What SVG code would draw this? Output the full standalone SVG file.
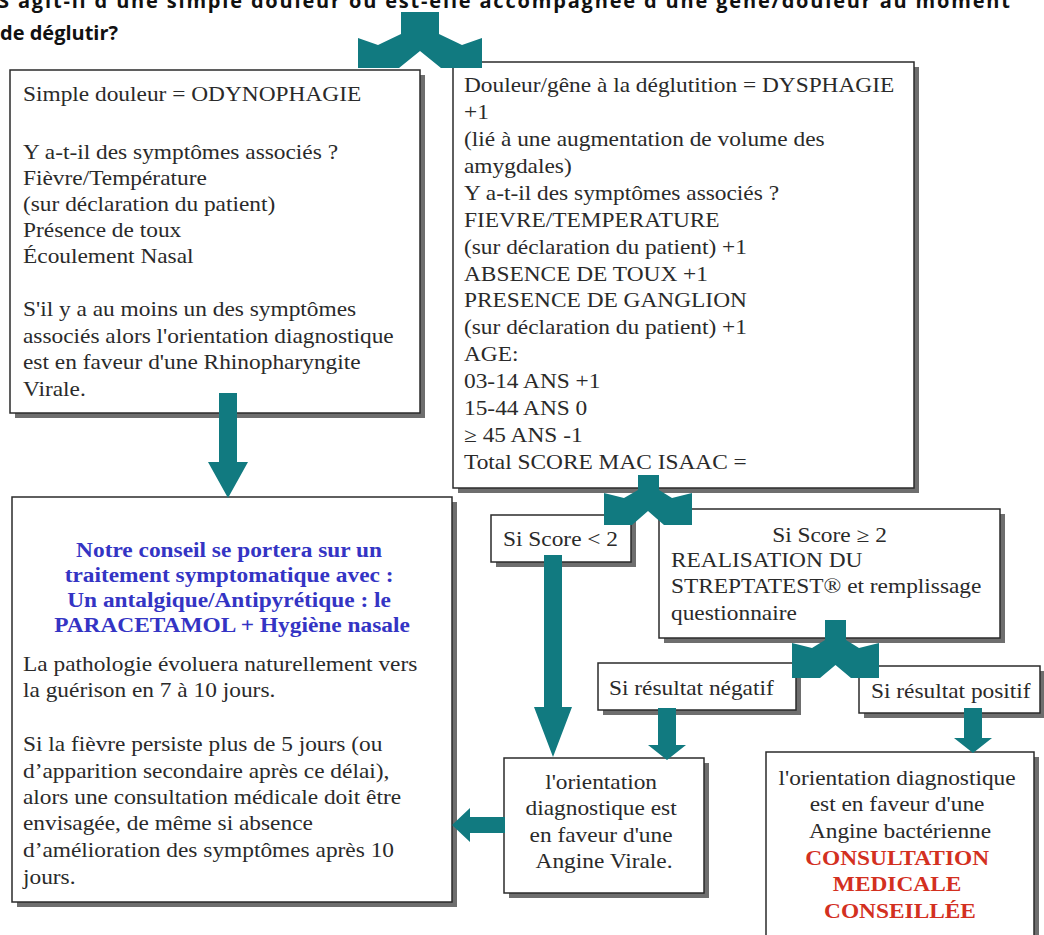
<svg xmlns="http://www.w3.org/2000/svg" width="1044" height="935" viewBox="0 0 1044 935">
<style>
.sh{fill:#6e6e6e}
.bx{fill:#fff;stroke:#2b2b2b;stroke-width:1.5}
.t{font-family:"Liberation Serif","Times New Roman",serif;font-size:20.5px;fill:#2a2a2a}
.c{text-anchor:middle}
.blue{fill:#3434c4;font-weight:bold}
.red{fill:#d3301f;font-weight:bold}
.ttl{font-family:"Open Sans","Liberation Sans",sans-serif;font-weight:700;font-size:20px;fill:#111}
.ar{fill:#117a80}
</style>
<rect width="1044" height="935" fill="#fff"/>
<g id="title">
<text class="ttl" x="-2" y="8" textLength="1012" lengthAdjust="spacing">S'agit-il d'une simple douleur ou est-elle accompagnée d'une gêne/douleur au moment</text>
<text class="ttl" x="0" y="40">de déglutir?</text>
</g>
<g id="n-odynophagie">
<rect class="sh" x="15" y="75" width="410" height="343"/>
<rect class="bx" x="10" y="70" width="410" height="343"/>
<text class="t" transform="matrix(1.14 0 0 1 23 0)">
<tspan x="0" y="101">Simple douleur = ODYNOPHAGIE</tspan>
<tspan x="0" y="159">Y a-t-il des symptômes associés ?</tspan>
<tspan x="0" y="185">Fièvre/Température</tspan>
<tspan x="0" y="211">(sur déclaration du patient)</tspan>
<tspan x="0" y="237">Présence de toux</tspan>
<tspan x="0" y="263">Écoulement Nasal</tspan>
<tspan x="0" y="316">S'il y a au moins un des symptômes</tspan>
<tspan x="0" y="343">associés alors l'orientation diagnostique</tspan>
<tspan x="0" y="369">est en faveur d'une Rhinopharyngite</tspan>
<tspan x="0" y="396">Virale.</tspan>
</text>
</g>
<g id="n-dysphagie">
<rect class="sh" x="458" y="67" width="461" height="426"/>
<rect class="bx" x="453" y="62" width="461" height="426"/>
<text class="t" transform="matrix(1.14 0 0 1 464 0)">
<tspan x="0" y="92">Douleur/gêne à la déglutition = DYSPHAGIE</tspan>
<tspan x="0" y="119">+1</tspan>
<tspan x="0" y="146">(lié à une augmentation de volume des</tspan>
<tspan x="0" y="173">amygdales)</tspan>
<tspan x="0" y="200">Y a-t-il des symptômes associés ?</tspan>
<tspan x="0" y="227">FIEVRE/TEMPERATURE</tspan>
<tspan x="0" y="254">(sur déclaration du patient) +1</tspan>
<tspan x="0" y="281">ABSENCE DE TOUX +1</tspan>
<tspan x="0" y="307">PRESENCE DE GANGLION</tspan>
<tspan x="0" y="334">(sur déclaration du patient) +1</tspan>
<tspan x="0" y="361">AGE:</tspan>
<tspan x="0" y="388">03-14 ANS +1</tspan>
<tspan x="0" y="415">15-44 ANS 0</tspan>
<tspan x="0" y="442">≥ 45 ANS -1</tspan>
<tspan x="0" y="469">Total SCORE MAC ISAAC =</tspan>
</text>
</g>
<g id="n-conseil">
<rect class="sh" x="17" y="502" width="440" height="405"/>
<rect class="bx" x="12" y="497" width="440" height="405"/>
<text class="t blue c" transform="matrix(1.14 0 0 1 232 0)">
<tspan x="0" y="557">Notre conseil se portera sur un</tspan>
<tspan x="0" y="582">traitement symptomatique avec :</tspan>
<tspan x="0" y="607">Un antalgique/Antipyrétique : le</tspan>
<tspan x="0" y="632">PARACETAMOL + Hygiène nasale</tspan>
</text>
<text class="t" transform="matrix(1.14 0 0 1 23 0)">
<tspan x="0" y="671">La pathologie évoluera naturellement vers</tspan>
<tspan x="0" y="697">la guérison en 7 à 10 jours.</tspan>
<tspan x="0" y="751">Si la fièvre persiste plus de 5 jours (ou</tspan>
<tspan x="0" y="778">d’apparition secondaire après ce délai),</tspan>
<tspan x="0" y="804">alors une consultation médicale doit être</tspan>
<tspan x="0" y="830">envisagée, de même si absence</tspan>
<tspan x="0" y="857">d’amélioration des symptômes après 10</tspan>
<tspan x="0" y="884">jours.</tspan>
</text>
</g>
<g id="n-score-inf">
<rect class="sh" x="496" y="520" width="140" height="47"/>
<rect class="bx" x="491" y="515" width="140" height="47"/>
<text class="t" transform="matrix(1.14 0 0 1 503 0)"><tspan x="0" y="546">Si Score &lt; 2</tspan></text>
</g>
<g id="n-score-sup">
<rect class="sh" x="664" y="514" width="341" height="129"/>
<rect class="bx" x="659" y="509" width="341" height="129"/>
<text class="t c" transform="matrix(1.14 0 0 1 829.5 0)"><tspan x="0" y="542">Si Score ≥ 2</tspan></text>
<text class="t" transform="matrix(1.14 0 0 1 671 0)">
<tspan x="0" y="567">REALISATION DU</tspan>
<tspan x="0" y="593">STREPTATEST® et remplissage</tspan>
<tspan x="0" y="620">questionnaire</tspan>
</text>
</g>
<g id="n-negatif">
<rect class="sh" x="603" y="668" width="198" height="47"/>
<rect class="bx" x="598" y="663" width="198" height="47"/>
<text class="t" transform="matrix(1.14 0 0 1 609 0)"><tspan x="0" y="695">Si résultat négatif</tspan></text>
</g>
<g id="n-positif">
<rect class="sh" x="864" y="671" width="181" height="47"/>
<rect class="bx" x="859" y="666" width="181" height="47"/>
<text class="t" transform="matrix(1.14 0 0 1 871 0)"><tspan x="0" y="698">Si résultat positif</tspan></text>
</g>
<g id="n-angine-virale">
<rect class="sh" x="509" y="763" width="200" height="135"/>
<rect class="bx" x="504" y="758" width="200" height="135"/>
<text class="t c" transform="matrix(1.14 0 0 1 604 0)">
<tspan x="0" y="789">l'orientation</tspan>
<tspan x="0" y="815">diagnostique est</tspan>
<tspan x="0" y="842">en faveur d'une</tspan>
<tspan x="0" y="868">Angine Virale.</tspan>
</text>
</g>
<g id="n-angine-bacterienne">
<rect class="sh" x="771" y="757" width="268" height="200"/>
<rect class="bx" x="766" y="752" width="268" height="200"/>
<text class="t c" transform="matrix(1.14 0 0 1 900 0)">
<tspan x="0" y="785">l'orientation diagnostique</tspan>
<tspan x="0" y="811">est en faveur d'une</tspan>
<tspan x="0" y="838">Angine bactérienne</tspan>
</text>
<text class="t c red" transform="matrix(1.14 0 0 1 900 0)">
<tspan x="0" y="865">CONSULTATION</tspan>
<tspan x="0" y="891">MEDICALE</tspan>
<tspan x="0" y="918">CONSEILLÉE</tspan>
</text>
</g>
<g id="connectors">
<polygon class="ar" points="401,12 439,12 439,34 462,45 482,38 482,68 441,68 420,51 399,68 358,68 358,38 378,45 401,34"/>
<polygon class="ar" points="638,475 659,475 659,490 672,498 692,493 692,525 664,525 648,511 632,525 604,525 604,493 624,498 638,490"/>
<polygon class="ar" points="825,620 846,620 846,640 859,648 879,643 879,678 851,678 835.5,665 820,678 792,678 792,643 812,648 825,640"/>
<polygon class="ar" points="219,393 237,393 237,462 248,462 228,498 208,462 219,462"/>
<polygon class="ar" points="544,555 562,555 562,707 572,707 553,757 534,707 544,707"/>
<polygon class="ar" points="658,708 676,708 676,745 686,745 667,760 648,745 658,745"/>
<polygon class="ar" points="964,708 982,708 982,738 992,738 973,753 954,738 964,738"/>
<polygon class="ar" points="505,817 505,833 470,833 470,842 452,825 470,808 470,817"/>
</g>
</svg>
